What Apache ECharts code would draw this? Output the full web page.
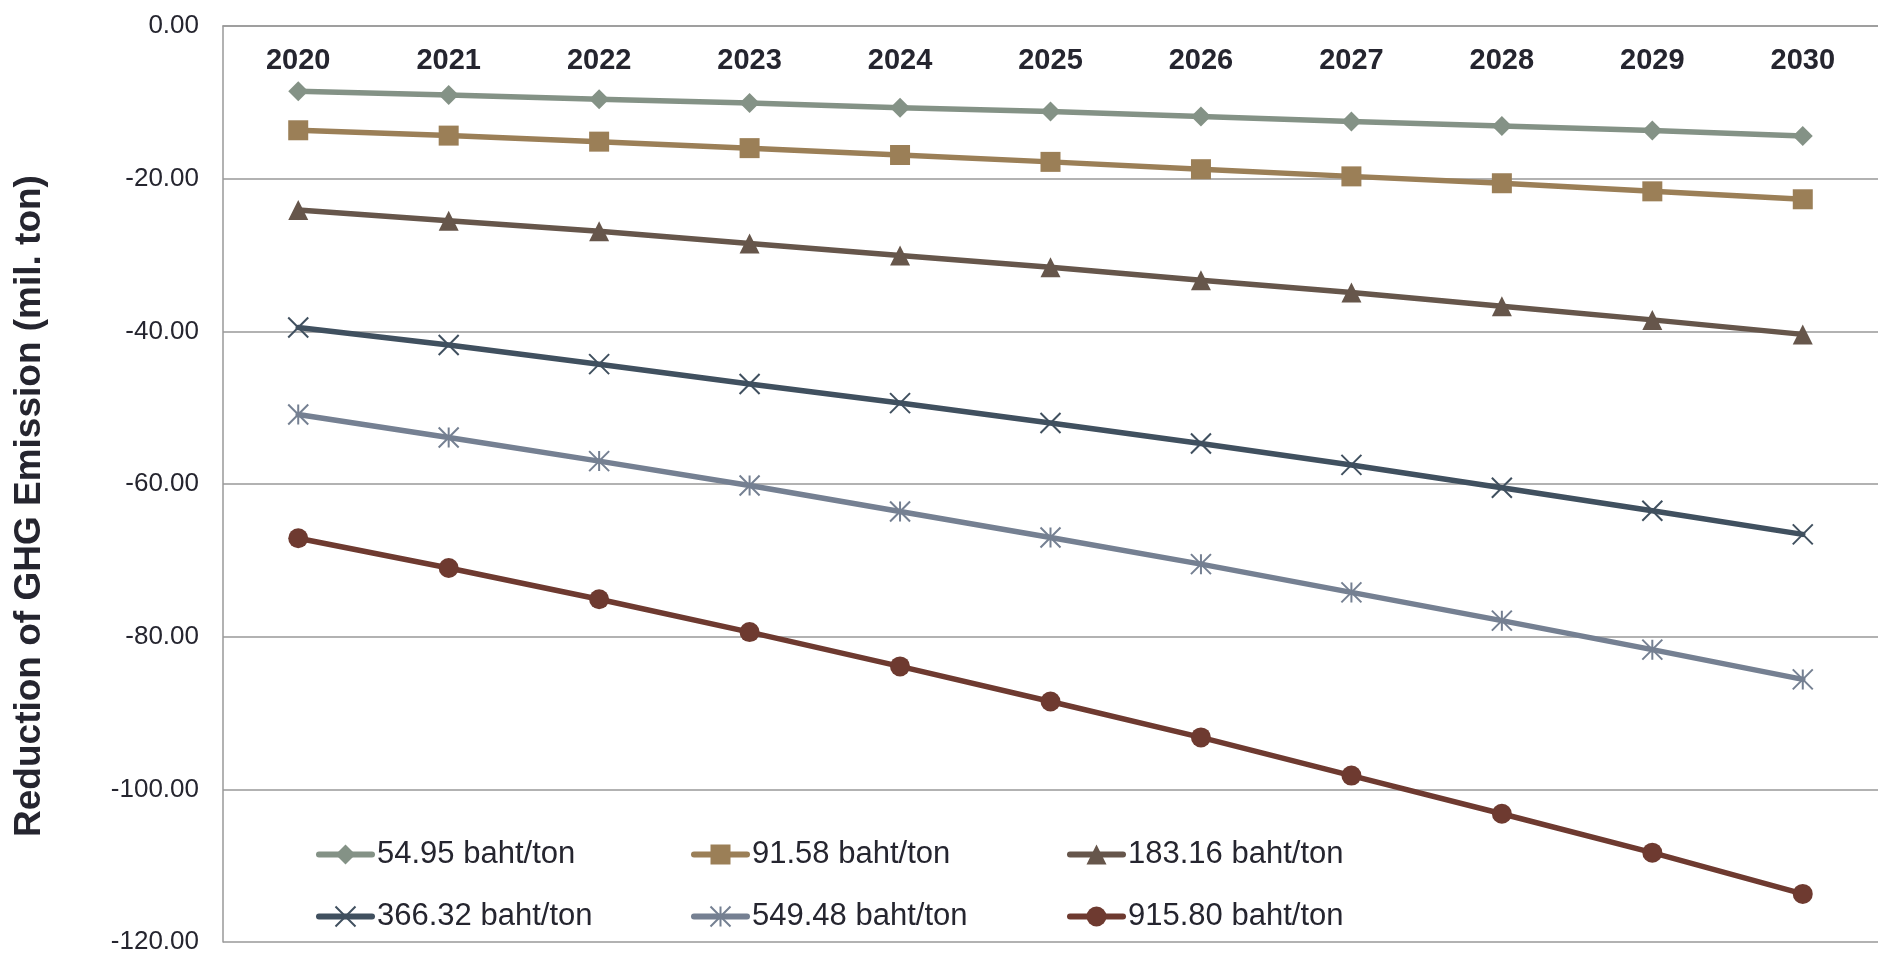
<!DOCTYPE html>
<html>
<head>
<meta charset="utf-8">
<script src="https://cdn.jsdelivr.net/npm/echarts@6/dist/echarts.min.js"></script>
<style>
html,body{margin:0;padding:0;background:#fff;}
#main{width:1878px;height:955px;}
</style>
</head>
<body>
<div id="main"></div>
<script>
const years = ['2020','2021','2022','2023','2024','2025','2026','2027','2028','2029','2030'];
const seriesNames = ['54.95 baht/ton','91.58 baht/ton','183.16 baht/ton','366.32 baht/ton','549.48 baht/ton','915.80 baht/ton'];
const s54 = [-8.56,-9.03,-9.58,-10.1,-10.7,-11.2,-11.85,-12.5,-13.1,-13.7,-14.4];
const s91 = [-13.66,-14.36,-15.15,-16.0,-16.9,-17.8,-18.76,-19.7,-20.6,-21.66,-22.7];
const s183 = [-24.1,-25.5,-26.9,-28.5,-30.06,-31.6,-33.3,-34.9,-36.7,-38.5,-40.4];
const s366 = [-39.5,-41.8,-44.3,-46.9,-49.4,-52.0,-54.7,-57.5,-60.5,-63.5,-66.6];
const s549 = [-50.9,-53.9,-57.0,-60.2,-63.6,-67.0,-70.5,-74.2,-77.9,-81.7,-85.6];
const s915 = [-67.1,-71.0,-75.1,-79.4,-83.9,-88.5,-93.2,-98.2,-103.2,-108.3,-113.7];
const yTicks = {min:-120, max:0, interval:20};
const yTitle = 'Reduction of GHG Emission (mil. ton)';

const allData = [s54,s91,s183,s366,s549,s915];
const colors = ['#849286','#9b7f57','#66564b','#40505f','#758092','#6e3a30'];
const symbols = ['diamond','rect','triangle',
  'path://M0,0L20,20M20,0L0,20',
  'path://M10,0L10,20M0,0L20,20M20,0L0,20',
  'circle'];
const FONT = '"Liberation Sans", Arial, sans-serif';
const textColor = '#25252f';

const series = allData.map((d,i)=>({
  name: seriesNames[i],
  type: 'line',
  data: d,
  symbol: symbols[i],
  symbolSize: 20,
  showAllSymbol: true,
  animation: false,
  lineStyle: {color: colors[i], width: 5.5, cap:'round', join:'round'},
  itemStyle: {color: colors[i], borderColor: colors[i], borderWidth: (i===3||i===4)?2:0}
}));

const legendPos = [[311,834],[686,834],[1062,834],[311,896],[686,896],[1062,896]];
const legends = seriesNames.map((n,i)=>({
  data:[n],
  left: legendPos[i][0],
  top: legendPos[i][1],
  itemWidth: 53,
  itemHeight: 25,
  lineStyle:{width:6, cap:'round'},
  textStyle:{fontFamily:FONT, fontSize:31, color:textColor},
  selectedMode:false
}));

const chart = echarts.init(document.getElementById('main'));
chart.setOption({
  backgroundColor:'#fff',
  animation:false,
  grid:{left:223, top:26, width:1658, height:917, containLabel:false},
  legend: legends,
  xAxis:{
    type:'category',
    data: years,
    position:'top',
    boundaryGap:true,
    axisLine:{show:true, lineStyle:{color:'#999', width:1.5}},
    axisTick:{show:false},
    axisLabel:{inside:true, margin:20, fontFamily:FONT, fontSize:29, fontWeight:'bold', color:textColor},
    splitLine:{show:false}
  },
  yAxis:{
    type:'value',
    min:yTicks.min, max:yTicks.max, interval:yTicks.interval,
    axisLine:{show:true, lineStyle:{color:'#999', width:1.5}},
    axisTick:{show:false},
    axisLabel:{margin:24, fontFamily:FONT, fontSize:26, color:textColor, formatter:v=>v.toFixed(2)},
    splitLine:{show:true, lineStyle:{color:'#999', width:1.5}}
  },
  graphic:[{
    type:'text', x:30, y:506, rotation:Math.PI/2,
    style:{text:yTitle, font:'bold 37px "Liberation Sans", Arial, sans-serif', fill:textColor, align:'center', verticalAlign:'middle'}
  }],
  series: series
});
</script>
</body>
</html>
